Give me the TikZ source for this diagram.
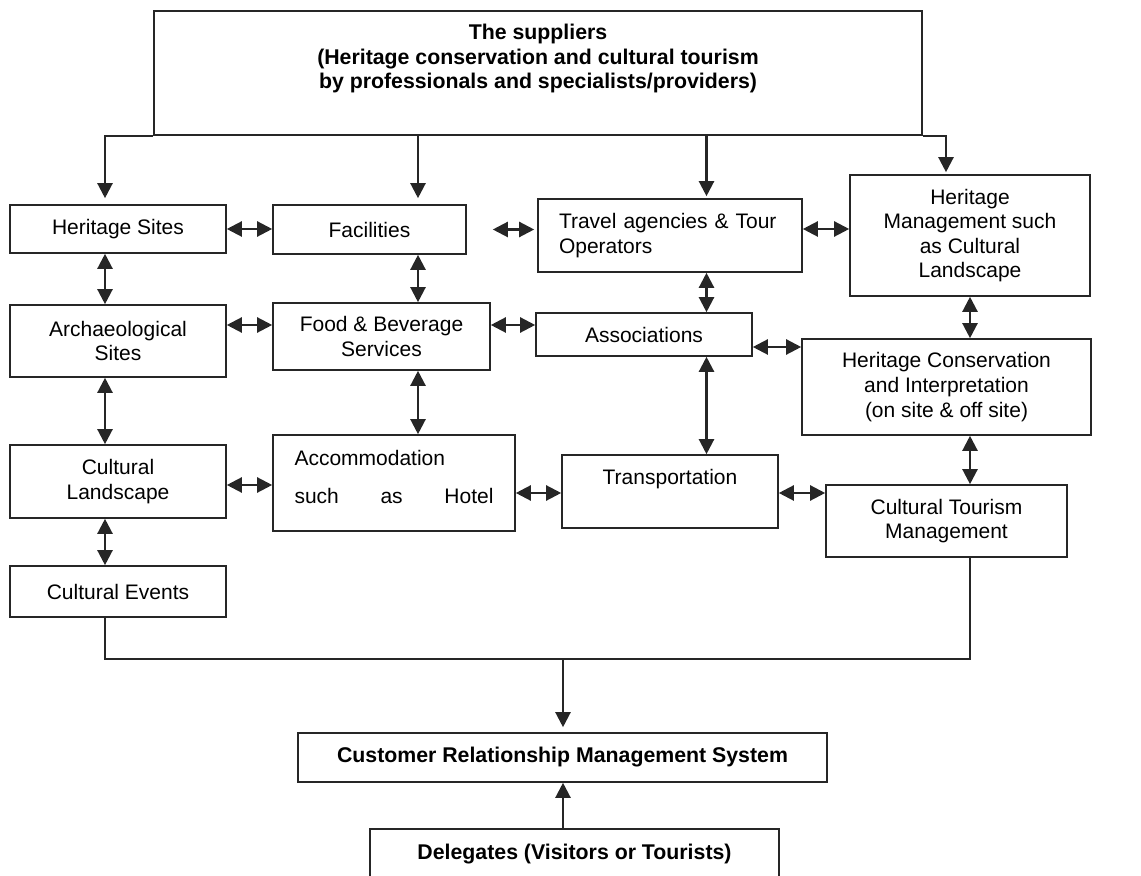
\documentclass[tikz,border=0pt]{standalone}
\usepackage{fontspec}
\setmainfont{Liberation Sans}
\usetikzlibrary{arrows.meta}
\tikzset{
  box/.style={draw=black!85, line width=0.8pt, align=center, inner sep=2pt},
  arr/.style={-{Triangle[length=7.5pt,width=7.5pt]}, line width=1.15pt, draw=black!85},
  dbl/.style={{Triangle[length=7.5pt,width=7.5pt]}-{Triangle[length=7.5pt,width=7.5pt]}, line width=1.15pt, draw=black!85},
  mergeline/.style={line width=0.65pt, draw=black!85},
  boldtext/.style={font=\fontsize{10.65}{12.3}\selectfont\bfseries}
}
\begin{document}
\begin{tikzpicture}[x=0.5pt, y=-0.5pt, font=\fontsize{10.5}{12.3}\selectfont]
  \useasboundingbox (0,0) rectangle (1141,876);
  % columns of the vertical arrows
  \coordinate (colA) at (105,0);
  \coordinate (colB) at (418,0);
  \coordinate (colC) at (706.5,0);
  \coordinate (colD) at (970,0);
  \coordinate (colE) at (946,0);
  % boxes
  \node[box, minimum width=384pt, minimum height=62pt,
    label={[boldtext, align=center, yshift=7.25pt]center:{The suppliers\\(Heritage conservation and cultural tourism\\by professionals and specialists/providers)}}] (sup) at (538,73) {};
  \node[box, minimum width=108pt, minimum height=24pt] (herit) at (118,229) {Heritage Sites};
  \node[box, minimum width=96.5pt, minimum height=24.5pt] (facil) at (369.5,229.5) {Facilities};
  \node[box, minimum width=132pt, minimum height=36.5pt, align=left, text width=111pt] (travel) at (670,235.5) {Travel agencies \& Tour\\Operators};
  \node[box, minimum width=120pt, minimum height=60.5pt] (hmgmt) at (970,235.5) {Heritage\\Management such\\as Cultural\\Landscape};
  \node[box, minimum width=108pt, minimum height=36pt] (arch) at (118,341) {Archaeological\\Sites};
  \node[box, minimum width=108.5pt, minimum height=33.5pt] (food) at (381.5,336.5) {Food \& Beverage\\Services};
  \node[box, minimum width=108pt, minimum height=21.5pt] (assoc) at (644,334.5) {Associations};
  \node[box, minimum width=144.5pt, minimum height=48pt] (hcons) at (946.5,387) {Heritage Conservation\\and Interpretation\\(on site \& off site)};
  \node[box, minimum width=108pt, minimum height=36.5pt] (cland) at (118,481.5) {Cultural\\Landscape};
  \node[box, minimum width=121pt, minimum height=48pt,
    label={[yshift=3pt]center:{\parbox{99.5pt}{Accommodation\\[6.7pt]\hbox to 99.5pt{such\hfill as\hfill Hotel}}}}] (accom) at (394,483) {};
  \node[box, minimum width=108pt, minimum height=36.5pt,
    label={[yshift=6.25pt]center:Transportation}] (transp) at (670,491.5) {};
  \node[box, minimum width=120.5pt, minimum height=36pt] (ctm) at (946.5,521) {Cultural Tourism\\Management};
  \node[box, minimum width=108pt, minimum height=25.5pt] (cevents) at (118,591.5) {Cultural Events};
  \node[box, boldtext, minimum width=264.5pt, minimum height=24.5pt] (crm) at (562.5,757.5) {Customer Relationship Management System};
  \node[box, boldtext, minimum width=204.5pt, minimum height=25pt] (deleg) at (574.5,854) {Delegates (Visitors or Tourists)};
  % from the suppliers
  \draw[arr, shorten >=3pt] (sup.south west) -| (herit.north -| colA);
  \draw[arr, shorten >=3pt] (sup.south -| colB) -- (facil.north -| colB);
  \draw[arr, shorten >=1pt] (sup.south -| colC) -- (travel.north -| colC);
  \draw[arr, shorten >=1pt] (sup.south east) -| (hmgmt.north -| colE);
  % links between the boxes
  \foreach \a/\b/\c in {herit/arch/colA, arch/cland/colA, cland/cevents/colA,
      facil/food/colB, food/accom/colB, travel/assoc/colC, assoc/transp/colC,
      hmgmt/hcons/colD, hcons/ctm/colD} {
    \draw[dbl] (\a.south -| \c) -- (\b.north -| \c);
  }
  \foreach \a/\b/\s in {herit/facil/0, travel/hmgmt/3.25, arch/food/8, food/assoc/5.75,
      assoc/hcons/-6.25, cland/accom/-1.75, accom/transp/-5, transp/ctm/-0.75} {
    \draw[dbl] ([yshift=\s pt]\a.east) -- ([yshift=\s pt]\a.east -| \b.west);
  }
  \draw[dbl, shorten <=13pt, shorten >=1.5pt] (facil.east) -- (facil.east -| travel.west);
  % to the customer system
  \coordinate (merge) at (563,659);
  \draw[mergeline] (cevents.south -| colA) |- (merge) -| (ctm.south -| colD);
  \draw[arr, shorten >=2.5pt] (merge) -- (crm.north -| merge);
  \draw[arr] (deleg.north -| merge) -- (crm.south -| merge);
\end{tikzpicture}
\end{document}
